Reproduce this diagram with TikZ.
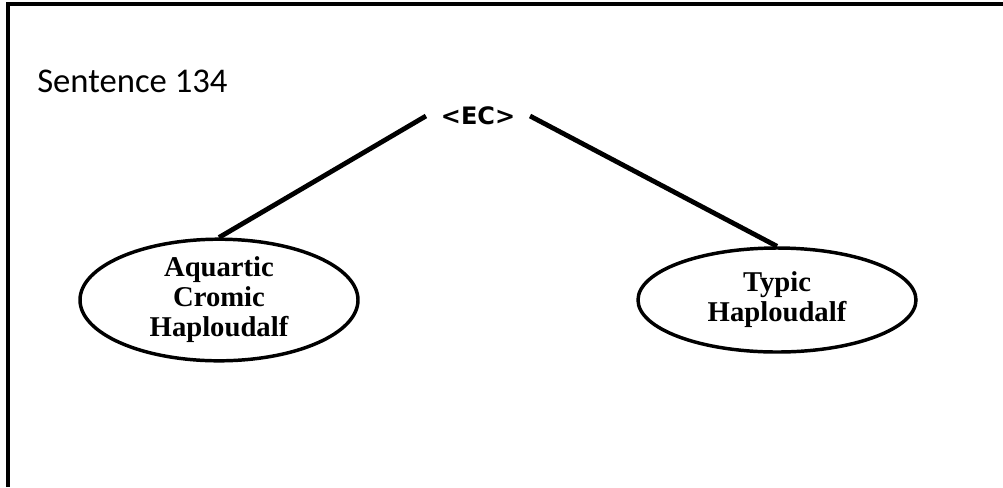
\documentclass[tikz,border=0pt]{standalone}
\usepackage{fontspec}
\usepackage{tikz}
\usetikzlibrary{shapes.geometric}
\setmainfont{Liberation Serif}
\newfontfamily\calib{Carlito}
\newfontfamily\dejav{DejaVu Sans}

\begin{document}
\begin{tikzpicture}[x=0.75pt, y=-0.75pt,
  leaf/.style={draw, ellipse, line width=2.6pt, inner sep=0pt, minimum width=278*0.75pt, minimum height=104*0.75pt, align=center, font=\fontsize{21.5}{22.5}\selectfont\bfseries},
  branch/.style={line width=3.6pt}]
\useasboundingbox (0,0) rectangle (1003,487);
\draw [line width=3pt](8,487) -- (8,4) -- (1003,4);
\node[anchor=base west, inner sep=0pt, font=\calib\fontsize{26}{30}\selectfont](title) at (37,92){Sentence 134};
\node[inner xsep=11pt, inner ysep=2pt, font=\dejav\fontsize{18}{20}\selectfont\bfseries](ec) at (478,116){<EC>};
\node[leaf](aq) at (219,300){Aquartic\\Cromic\\Haploudalf};
\node[leaf](ty) at (777,300){Typic\\Haploudalf};
\draw [branch](ec.west) -- (aq.north);
\draw [branch](ec.east) -- (ty.north);
\end{tikzpicture}
\end{document}
